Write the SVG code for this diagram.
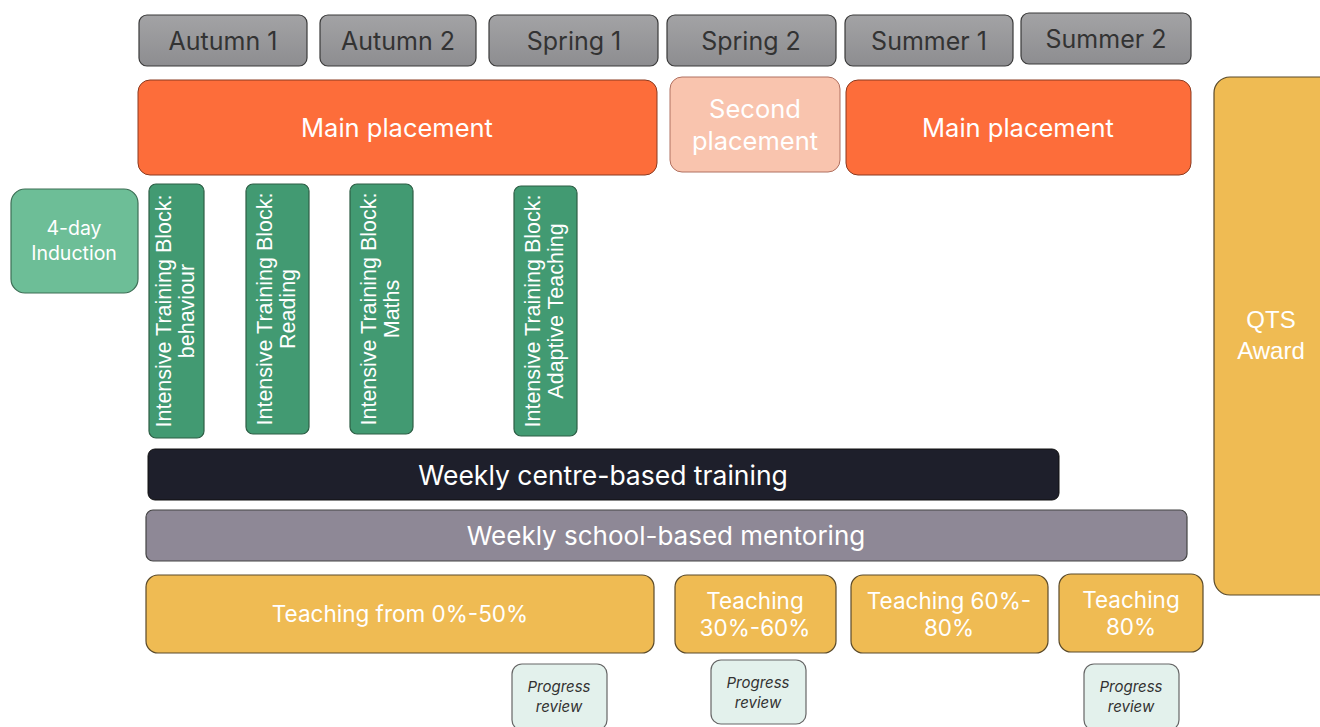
<svg xmlns="http://www.w3.org/2000/svg" width="1320" height="727" viewBox="0 0 1320 727">
<defs>
<linearGradient id="hdr" x1="0" y1="0" x2="0" y2="1"><stop offset="0" stop-color="#a3a3a5"/><stop offset="1" stop-color="#8d8d90"/></linearGradient>
<style>
text{font-family:"Inter","Liberation Sans",sans-serif;text-anchor:middle;dominant-baseline:central}
.hdr rect{fill:url(#hdr);stroke:#3a3a3a;stroke-width:1.2}
.hdr text{fill:#333;font-size:25px}
.main rect{fill:#fd6d3a;stroke:#8a3a20;stroke-width:1}
.sec rect{fill:#f9c4ae;stroke:#b07060;stroke-width:1}
.w{fill:#fff}
.big{font-size:25.5px}
.grn rect{fill:#429a72;stroke:#2d5e45;stroke-width:1.2}
.grn text{fill:#fff;font-size:21.5px;font-family:"Liberation Sans",Arial,sans-serif}
.ind rect{fill:#6dbe97;stroke:#3d6e55;stroke-width:1.2}
.teach rect{fill:#efbb53;stroke:#5a4a2a;stroke-width:1.2}
.teach text{fill:#fff;font-size:22.5px}
.pr rect{fill:#e3f1ec;stroke:#666;stroke-width:1.2}
.pr text{fill:#333;font-size:15px;font-style:italic}
</style>
</defs>
<rect width="1320" height="727" fill="#fff"/>

<g id="autumn1" class="hdr"><rect x="139" y="15" width="168" height="51" rx="8"/><text x="223" y="41">Autumn 1</text></g>
<g id="autumn2" class="hdr"><rect x="320" y="15" width="156" height="51" rx="8"/><text x="398" y="41">Autumn 2</text></g>
<g id="spring1" class="hdr"><rect x="489" y="15" width="169" height="51" rx="8"/><text x="574" y="41">Spring 1</text></g>
<g id="spring2" class="hdr"><rect x="667" y="15" width="169" height="51" rx="8"/><text x="751" y="41">Spring 2</text></g>
<g id="summer1" class="hdr"><rect x="845" y="15" width="168" height="51" rx="8"/><text x="929" y="41">Summer 1</text></g>
<g id="summer2" class="hdr"><rect x="1021" y="13" width="170" height="51" rx="8"/><text x="1106" y="39">Summer 2</text></g>

<g id="main1" class="main"><rect x="138" y="80" width="519" height="95" rx="12"/><text class="w big" x="397" y="127">Main placement</text></g>
<g id="second" class="sec"><rect x="670" y="77" width="170" height="95" rx="12"/><text class="w big" x="755" y="108">Second</text><text class="w big" x="755" y="140">placement</text></g>
<g id="main2" class="main"><rect x="846" y="80" width="345" height="95" rx="12"/><text class="w big" x="1018" y="127">Main placement</text></g>

<g id="qts" class="teach"><rect x="1214" y="77" width="130" height="518" rx="16"/><text x="1271" y="319" style="font-family:'Liberation Sans',Arial,sans-serif;font-size:24px">QTS</text><text x="1271" y="350" style="font-family:'Liberation Sans',Arial,sans-serif;font-size:24px">Award</text></g>

<g id="induction" class="ind"><rect x="11" y="189" width="127" height="104" rx="14"/><text class="w" x="74" y="228" style="font-size:19.5px">4-day</text><text class="w" x="74" y="253" style="font-size:19.5px">Induction</text></g>

<g id="itb-behaviour" class="grn"><rect x="149" y="184" width="55" height="254" rx="7"/><g transform="translate(176,311) rotate(-90)"><text x="0" y="-12">Intensive Training Block:</text><text x="0" y="11">behaviour</text></g></g>
<g id="itb-reading" class="grn"><rect x="246" y="184" width="63" height="250" rx="7"/><g transform="translate(277,309) rotate(-90)"><text x="0" y="-12">Intensive Training Block:</text><text x="0" y="11">Reading</text></g></g>
<g id="itb-maths" class="grn"><rect x="350" y="184" width="63" height="250" rx="7"/><g transform="translate(381,309) rotate(-90)"><text x="0" y="-12">Intensive Training Block:</text><text x="0" y="11">Maths</text></g></g>
<g id="itb-adaptive" class="grn"><rect x="514" y="186" width="63" height="250" rx="7"/><g transform="translate(545,311) rotate(-90)"><text x="0" y="-12">Intensive Training Block:</text><text x="0" y="11">Adaptive Teaching</text></g></g>

<g id="centre"><rect x="148" y="449" width="911" height="51" rx="7" fill="#1e1f2b" stroke="#111" stroke-width="1"/><text class="w" style="font-size:26.5px" x="603" y="475">Weekly centre-based training</text></g>
<g id="mentoring"><rect x="146" y="510" width="1041" height="51" rx="7" fill="#8e8896" stroke="#444" stroke-width="1.2"/><text class="w" style="font-size:26px" x="666" y="535">Weekly school-based mentoring</text></g>

<g id="teach1" class="teach"><rect x="146" y="575" width="508" height="78" rx="12"/><text x="400" y="613">Teaching from 0%-50%</text></g>
<g id="teach2" class="teach"><rect x="675" y="575" width="161" height="78" rx="12"/><text x="755" y="600">Teaching</text><text x="755" y="627">30%-60%</text></g>
<g id="teach3" class="teach"><rect x="851" y="575" width="197" height="78" rx="12"/><text x="949" y="600">Teaching 60%-</text><text x="949" y="627">80%</text></g>
<g id="teach4" class="teach"><rect x="1059" y="574" width="144" height="78" rx="12"/><text x="1131" y="599">Teaching</text><text x="1131" y="626">80%</text></g>

<g id="review1" class="pr"><rect x="512" y="664" width="95" height="66" rx="10"/><text x="559" y="686">Progress</text><text x="559" y="706">review</text></g>
<g id="review2" class="pr"><rect x="711" y="660" width="95" height="64" rx="10"/><text x="758" y="682">Progress</text><text x="758" y="702">review</text></g>
<g id="review3" class="pr"><rect x="1084" y="664" width="95" height="66" rx="10"/><text x="1131" y="686">Progress</text><text x="1131" y="706">review</text></g>

<g id="connectors"></g>
</svg>
